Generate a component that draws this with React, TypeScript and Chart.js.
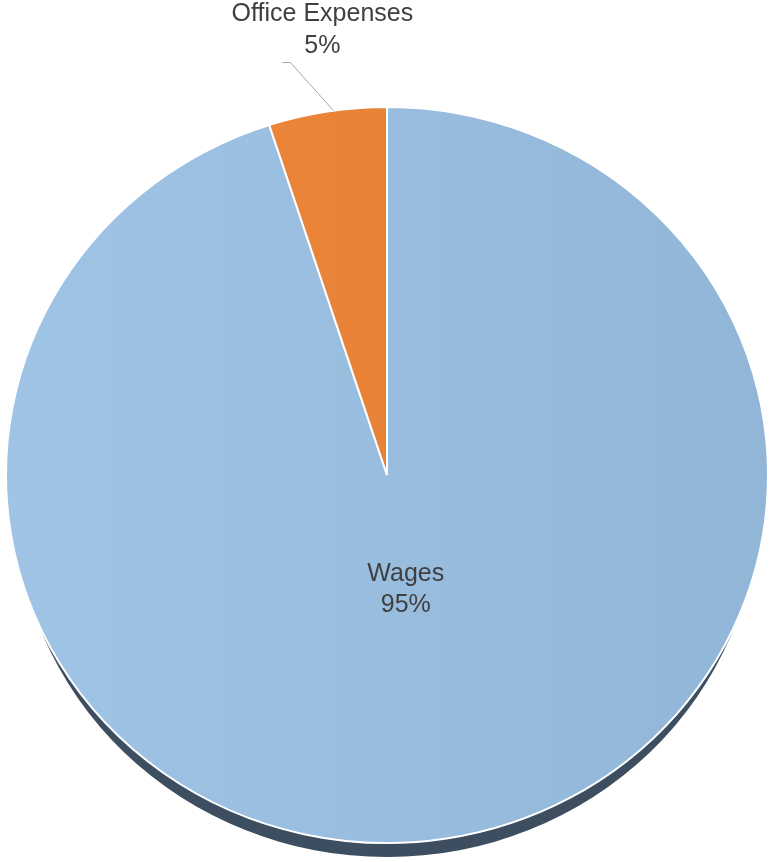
import React, { useEffect, useRef } from "react";
import { Chart, registerables } from "chart.js";

Chart.register(...registerables);

const categories: string[] = ["Wages", "Office Expenses"];
const values: number[] = [95, 5];
const percentLabels: string[] = ["95%", "5%"];

const Y_SQUASH = 0.966;

const piePlugin = {
  id: "pie3dLook",
  beforeDatasetsDraw(chart: any) {
    const meta = chart.getDatasetMeta(0);
    const arc = meta.data[0];
    if (!arc) return;
    const { x, y, outerRadius } = arc.getProps(["x", "y", "outerRadius"], true);
    const ctx = chart.ctx;
    ctx.save();
    ctx.fillStyle = "#3c4e60";
    ctx.beginPath();
    ctx.ellipse(x, y + 24, outerRadius - 9, outerRadius * Y_SQUASH - 10, 0, 0, Math.PI * 2);
    ctx.fill();
    ctx.restore();
    ctx.save();
    ctx.translate(x, y);
    ctx.scale(1, Y_SQUASH);
    ctx.translate(-x, -y);
  },
  afterDatasetsDraw(chart: any) {
    chart.ctx.restore();
  },
  afterDraw(chart: any) {
    const meta = chart.getDatasetMeta(0);
    const ctx = chart.ctx;
    ctx.save();
    ctx.font = "25px 'Liberation Sans', Arial, sans-serif";
    ctx.fillStyle = "#404040";
    ctx.textAlign = "center";
    ctx.textBaseline = "middle";
    meta.data.forEach((el: any, i: number) => {
      const { x, y, startAngle, endAngle, outerRadius } = el.getProps(
        ["x", "y", "startAngle", "endAngle", "outerRadius"],
        true
      );
      const mid = (startAngle + endAngle) / 2;
      if (i === 0) {
        const r = outerRadius * 0.315;
        const lx = x + Math.cos(mid) * r;
        const ly = y + Math.sin(mid) * r * Y_SQUASH;
        ctx.fillText(categories[i], lx, ly - 15);
        ctx.fillText(percentLabels[i], lx, ly + 16);
      } else {
        const sx = x + Math.cos(mid) * outerRadius + 6;
        const sy = y + Math.sin(mid) * outerRadius * Y_SQUASH - 1;
        const ex = sx - 43;
        const ey = sy - 48;
        ctx.strokeStyle = "#a6a6a6";
        ctx.lineWidth = 1;
        ctx.beginPath();
        ctx.moveTo(sx, sy);
        ctx.lineTo(ex, ey);
        ctx.lineTo(ex - 8, ey);
        ctx.stroke();
        ctx.fillText(categories[i], ex + 32, ey - 48);
        ctx.fillText(percentLabels[i], ex + 32, ey - 16);
      }
    });
    ctx.restore();
  },
};

export default function App() {
  const canvasRef = useRef<HTMLCanvasElement | null>(null);

  useEffect(() => {
    document.body.style.margin = "0";
    const canvas = canvasRef.current;
    if (!canvas) return;
    const chart = new Chart(canvas, {
      type: "pie",
      data: {
        labels: categories,
        datasets: [
          {
            data: values,
            backgroundColor: (context: any) => {
              const c = context.chart;
              const area = c.chartArea;
              if (!area) return context.dataIndex === 0 ? "#9abde0" : "#e67f36";
              const g = c.ctx.createLinearGradient(area.left, 0, area.right, 0);
              if (context.dataIndex === 0) {
                g.addColorStop(0, "#9fc4e6");
                g.addColorStop(1, "#92b6d8");
              } else {
                g.addColorStop(0, "#f08a3a");
                g.addColorStop(1, "#e07a34");
              }
              return g;
            },
            borderColor: "#ffffff",
            borderWidth: 2,
          },
        ],
      },
      options: {
        animation: false,
        responsive: false,
        radius: 381,
        layout: { padding: { left: 6, right: 5, top: 94, bottom: 6 } },
        plugins: {
          legend: { display: false },
          tooltip: { enabled: false },
        },
      },
      plugins: [piePlugin],
    });
    return () => chart.destroy();
  }, []);

  return (
    <div style={{ width: 773, height: 862, background: "#ffffff" }}>
      <canvas ref={canvasRef} width={773} height={862} style={{ display: "block" }} />
    </div>
  );
}
